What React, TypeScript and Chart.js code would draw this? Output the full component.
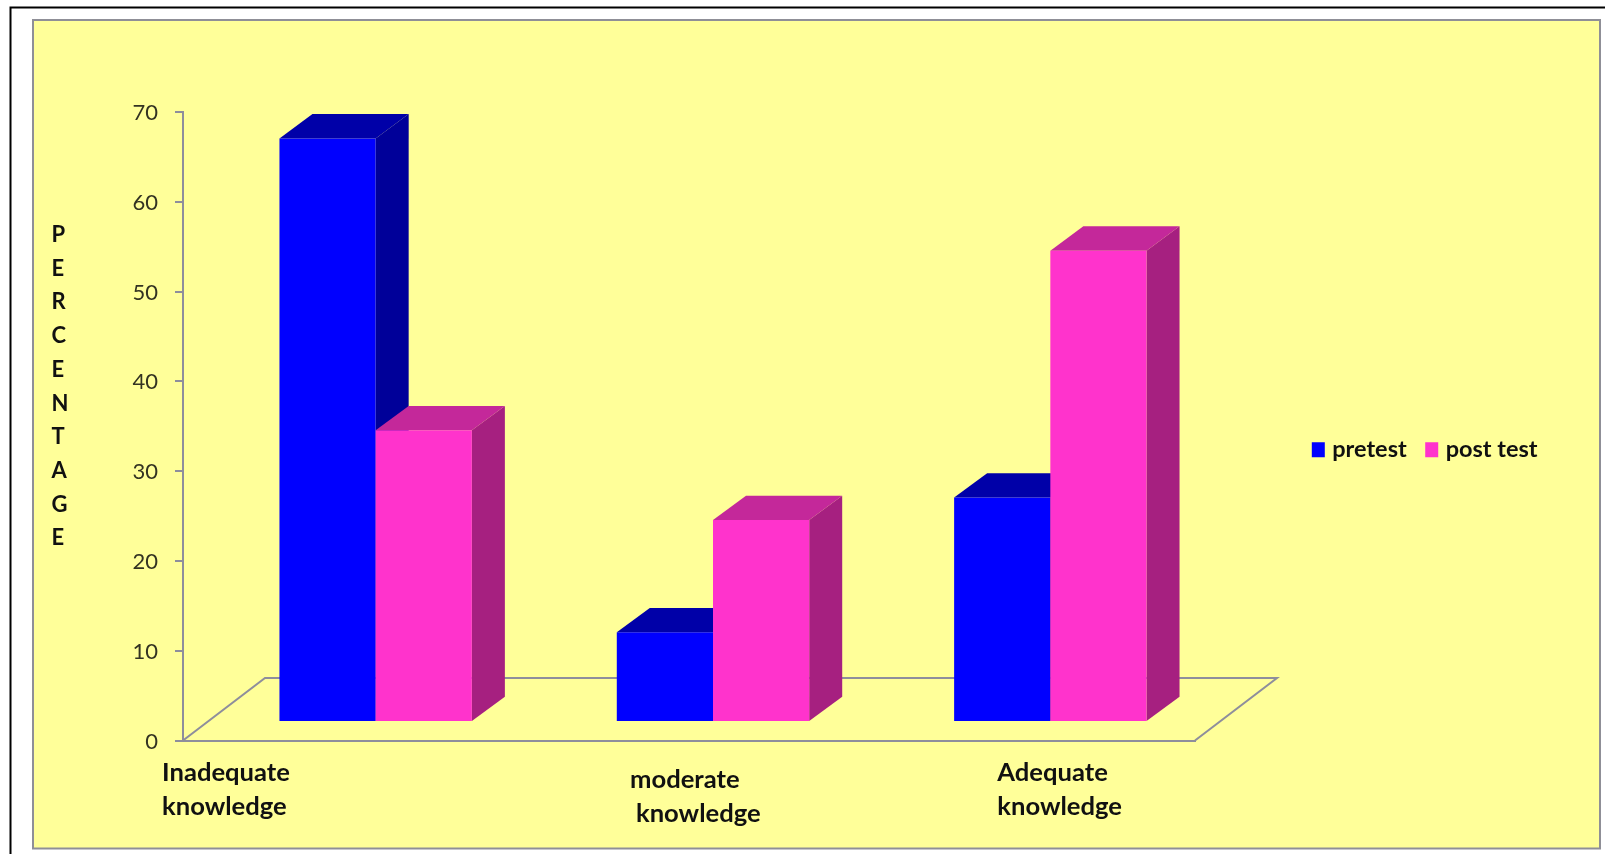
import React, { useEffect, useRef } from "react";
import { Chart, registerables } from "chart.js";

Chart.register(...registerables);

const categories = ["Inadequate knowledge", "moderate knowledge", "Adequate knowledge"];
const pretest = [65, 10, 25];
const postTest = [32.5, 22.5, 52.5];
const yTicks = [0, 70, 10];
const axisTitle = ["P", "E", "R", "C", "E", "N", "T", "A", "G", "E"];

// Hand-placed two-line category captions: text, left offset from the tick, baseline below the axis.
const captionLines = [
  [
    { text: "Inadequate", dx: -189.6, dy: 40.5 },
    { text: "knowledge", dx: -189.6, dy: 74.8 },
  ],
  [
    { text: "moderate", dx: -59, dy: 47.8 },
    { text: "knowledge", dx: -53, dy: 81.8 },
  ],
  [
    { text: "Adequate", dx: -29, dy: 40.5 },
    { text: "knowledge", dx: -29, dy: 74.8 },
  ],
];

const FONT = "Lato";
const AXIS_GRAY = "#8e8e9c";
const PANEL_FILL = "#ffff99";

const blue = { front: "#0000ff", top: "#0000a8", side: "#000099" };
const pink = { front: "#ff33cc", top: "#c4289a", side: "#a62080" };
const faces = [blue, pink];

const FLOOR_DX = 82;
const FLOOR_DY = 62.5;
const BAR_SHIFT_X = 24;
const BAR_SHIFT_Y = -18.5;
const BAR_DEPTH_X = 33;
const BAR_DEPTH_Y = 24.3;

const backdrop = {
  id: "backdrop",
  beforeDraw(chart: any) {
    const { ctx, width, height } = chart;
    ctx.save();
    ctx.fillStyle = "#ffffff";
    ctx.fillRect(0, 0, width, height);
    ctx.strokeStyle = "#000000";
    ctx.lineWidth = 2;
    ctx.beginPath();
    ctx.moveTo(10.5, height);
    ctx.lineTo(10.5, 7.5);
    ctx.lineTo(width, 7.5);
    ctx.stroke();
    ctx.fillStyle = PANEL_FILL;
    ctx.strokeStyle = "#8f8f97";
    ctx.fillRect(33, 20, 1567, 828.5);
    ctx.strokeRect(33, 20, 1567, 828.5);
    ctx.restore();
  },
};

// Moves the one-row legend beside the plot, clear of the scales.
const legendPlacement = {
  id: "legendPlacement",
  afterLayout(chart: any) {
    const legend = chart.legend;
    const w = legend.right - legend.left;
    const h = legend.bottom - legend.top;
    legend.left = 1293.3;
    legend.right = 1293.3 + w;
    legend.top = 415.2;
    legend.bottom = 415.2 + h;
  },
};

// Draws the floor and extrudes every bar; the front faces stay the library's own bar elements.
const extrusion = {
  id: "extrusion",
  beforeDatasetsDraw(chart: any) {
    const { ctx, chartArea } = chart;
    const { left, right, bottom } = chartArea;

    ctx.save();
    ctx.strokeStyle = AXIS_GRAY;
    ctx.lineWidth = 2;
    ctx.lineJoin = "miter";
    ctx.beginPath();
    ctx.moveTo(left, bottom);
    ctx.lineTo(left + FLOOR_DX, bottom - FLOOR_DY);
    ctx.lineTo(right + FLOOR_DX, bottom - FLOOR_DY);
    ctx.lineTo(right, bottom);
    ctx.stroke();
    ctx.restore();

    [0, 1].forEach((datasetIndex) => {
      const meta = chart.getDatasetMeta(datasetIndex);
      const colours = faces[datasetIndex];
      meta.data.forEach((bar: any) => {
        const x0 = bar.x - bar.width / 2;
        const x1 = bar.x + bar.width / 2;
        ctx.save();
        ctx.translate(BAR_SHIFT_X, BAR_SHIFT_Y);
        ctx.fillStyle = colours.side;
        ctx.beginPath();
        ctx.moveTo(x1, bar.y);
        ctx.lineTo(x1 + BAR_DEPTH_X, bar.y - BAR_DEPTH_Y);
        ctx.lineTo(x1 + BAR_DEPTH_X, bar.base - BAR_DEPTH_Y);
        ctx.lineTo(x1, bar.base);
        ctx.closePath();
        ctx.fill();
        ctx.fillStyle = colours.top;
        ctx.beginPath();
        ctx.moveTo(x0, bar.y);
        ctx.lineTo(x0 + BAR_DEPTH_X, bar.y - BAR_DEPTH_Y);
        ctx.lineTo(x1 + BAR_DEPTH_X, bar.y - BAR_DEPTH_Y);
        ctx.lineTo(x1, bar.y);
        ctx.closePath();
        ctx.fill();
        bar.draw(ctx);
        ctx.restore();
      });
    });
    return false;
  },
};

const captions = {
  id: "captions",
  afterDraw(chart: any) {
    const { ctx, chartArea, scales } = chart;
    ctx.save();
    ctx.fillStyle = "#111111";
    ctx.textAlign = "left";
    ctx.textBaseline = "alphabetic";
    ctx.font = `bold 25.6px ${FONT}`;
    captionLines.forEach((lines, i) => {
      const tickX = scales.x.getPixelForTick(i);
      lines.forEach((line) => {
        ctx.fillText(line.text, tickX + line.dx, chartArea.bottom + line.dy);
      });
    });
    // Vertical axis caption, one letter per row.
    ctx.font = `bold 22px ${FONT}`;
    axisTitle.forEach((letter, i) => {
      ctx.fillText(letter, 51.5, 242 + i * 33.7);
    });
    ctx.restore();
  },
};

export default function App() {
  const canvasRef = useRef<HTMLCanvasElement | null>(null);

  useEffect(() => {
    const chart = new Chart(canvasRef.current as HTMLCanvasElement, {
      type: "bar",
      data: {
        labels: categories,
        datasets: [
          { label: "pretest", data: pretest, backgroundColor: blue.front, borderWidth: 0 },
          { label: "post test", data: postTest, backgroundColor: pink.front, borderWidth: 0 },
        ],
      },
      plugins: [backdrop, legendPlacement, extrusion, captions],
      options: {
        responsive: false,
        animation: false,
        layout: { padding: { left: 20, top: 112, right: 410, bottom: 57.2 } },
        datasets: { bar: { categoryPercentage: 0.5704, barPercentage: 1 } },
        scales: {
          x: {
            grid: { display: false, drawTicks: false },
            border: { color: AXIS_GRAY, width: 2 },
            ticks: { display: false },
          },
          y: {
            min: yTicks[0],
            max: yTicks[1],
            afterFit(scale: any) {
              scale.width = 163;
            },
            grid: { drawOnChartArea: false, color: AXIS_GRAY, lineWidth: 2, tickLength: 8 },
            border: { color: AXIS_GRAY, width: 2 },
            ticks: {
              stepSize: yTicks[2],
              padding: 17,
              labelOffset: 1,
              color: "#333322",
              font: { family: FONT, size: 22 },
            },
          },
        },
        plugins: {
          tooltip: { enabled: false },
          title: { display: false },
          legend: {
            position: "bottom",
            align: "start",
            labels: {
              boxWidth: 4.4,
              boxHeight: 6.4,
              padding: 22.8,
              color: "#111111",
              font: { family: FONT, size: 23.5, weight: "bold" },
              // The swatch is a small rectangle with a thick stroke, which keeps the text close to it.
              generateLabels(chart: any) {
                return Chart.defaults.plugins.legend.labels
                  .generateLabels(chart)
                  .map((item: any) => ({ ...item, lineWidth: 8.6, strokeStyle: item.fillStyle }));
              },
            },
          },
        },
      },
    } as any);
    return () => chart.destroy();
  }, []);

  return (
    <canvas
      ref={canvasRef}
      width={1605}
      height={854}
      style={{ position: "absolute", left: 0, top: 0, display: "block" }}
    />
  );
}
